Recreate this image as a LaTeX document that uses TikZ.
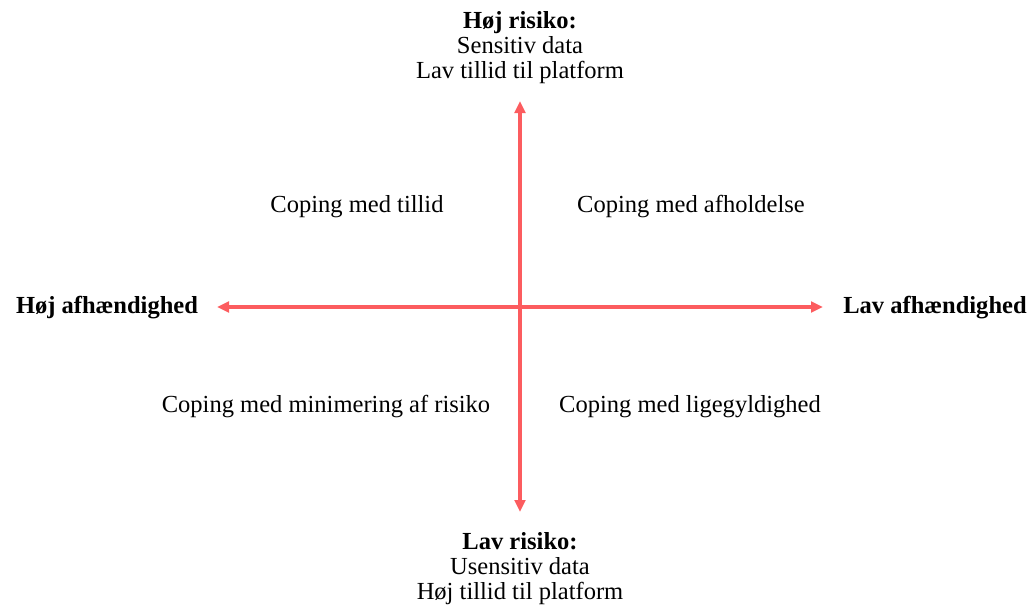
\documentclass[tikz,border=0pt]{standalone}
\usepackage{fontspec}
\setmainfont{Liberation Serif}
\usetikzlibrary{arrows.meta}
\definecolor{axisred}{RGB}{252,92,95}
\begin{document}
\begin{tikzpicture}[x=0.75pt,y=-0.75pt,
  lbl/.style={inner sep=0pt,align=center,font=\fontsize{18.4pt}{18.75pt}\selectfont},
  axis/.style={draw=axisred,line width=2.3pt,{Triangle[length=9pt,width=8pt]}-{Triangle[length=9pt,width=8pt]}}]
\useasboundingbox (0,0) rectangle (1032,607);
\node[lbl] (top) at (520,48) {\textbf{Høj risiko:}\\Sensitiv data\\Lav tillid til platform};
\node[lbl] (bot) at (520,569) {\textbf{Lav risiko:}\\Usensitiv data\\Høj tillid til platform};
\node[lbl] (left) at (107,308) {\textbf{Høj afhændighed}};
\node[lbl] (right) at (935,308) {\textbf{Lav afhændighed}};
\node[lbl] (q1) at (357,207) {Coping med tillid};
\node[lbl] (q2) at (691,207) {Coping med afholdelse};
\node[lbl] (q3) at (326,407) {Coping med minimering af risiko};
\node[lbl] (q4) at (690,407) {Coping med ligegyldighed};
\coordinate (vt) at (520,101);
\coordinate (vb) at (520,512);
\coordinate (hl) at (217,307);
\coordinate (hr) at (823,307);
\draw[axis] (vb) -- (vt);
\draw[axis] (hl) -- (hr);
\end{tikzpicture}
\end{document}
